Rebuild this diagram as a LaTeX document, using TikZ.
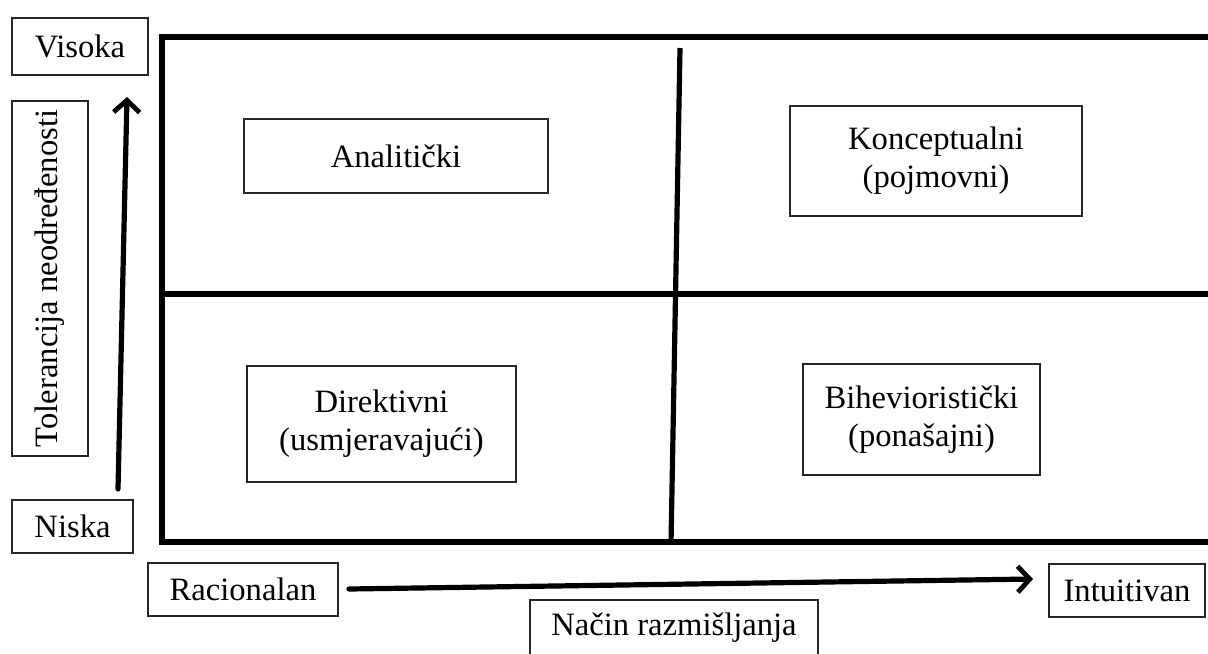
\documentclass[tikz,border=0pt]{standalone}
\usepackage{fontspec}
\setmainfont{Liberation Serif}
\usetikzlibrary{arrows.meta}
\tikzset{
  lbl/.style={draw=black!85, line width=0.7pt, fill=white, inner sep=0pt, align=center,
    font=\fontsize{16.3}{19}\selectfont},
  frame/.style={line width=2.6pt, line cap=butt},
  axis/.style={line width=2.6pt, line cap=round, -{Straight Barb[length=6pt,width=13pt,line width=2.4pt]}},
}
\begin{document}
\begin{tikzpicture}[x=0.5pt,y=-0.5pt]
\clip (0,0) rectangle (1208,653);
\fill[white] (0,0) rectangle (1208,653);
% frame
\draw[frame] (1212,37) -- (162,37) -- (162,542) -- (1212,542);
\draw[frame] (162,294) -- (1212,294);
\coordinate (vt) at (680,48);
\coordinate (vb) at (671,544);
\draw[frame] (vt) -- (vb);
% labels
\node[lbl, minimum width=68pt, minimum height=28.5pt] (visoka) at (80,46.5) {Visoka};
\node[lbl, rotate=90, minimum width=177.5pt, minimum height=38pt] (tol) at (50,278.5) {Tolerancija neodređenosti};
\node[lbl, minimum width=60.5pt, minimum height=26.5pt] (niska) at (72.5,526.5) {Niska};
\node[lbl, minimum width=95pt, minimum height=26.5pt] (rac) at (243,589.5) {Racionalan};
\node[lbl, minimum width=78pt, minimum height=26.5pt] (int) at (1127,590.5) {Intuitivan};
\node[lbl, minimum width=144pt, minimum height=28pt] (nacin) at (674,628) {Način razmišljanja};
\node[lbl, minimum width=152pt, minimum height=37pt] (anal) at (396,156) {Analitički};
\node[lbl, minimum width=146pt, minimum height=55pt] (konc) at (936,161) {Konceptualni\\(pojmovni)};
\node[lbl, minimum width=134.5pt, minimum height=58pt] (dir) at (381.5,424) {Direktivni\\(usmjeravajući)};
\node[lbl, minimum width=118.5pt, minimum height=55.5pt] (bih) at (921.5,419.5) {Bihevioristički\\(ponašajni)};
% axes
\coordinate (ya) at (118,489);
\coordinate (yb) at (127,97);
\coordinate (xa) at (349,589);
\coordinate (xb) at (1033,579);
\draw[axis] (ya) -- (yb);
\draw[axis] (xa) -- (xb);
\end{tikzpicture}
\end{document}
